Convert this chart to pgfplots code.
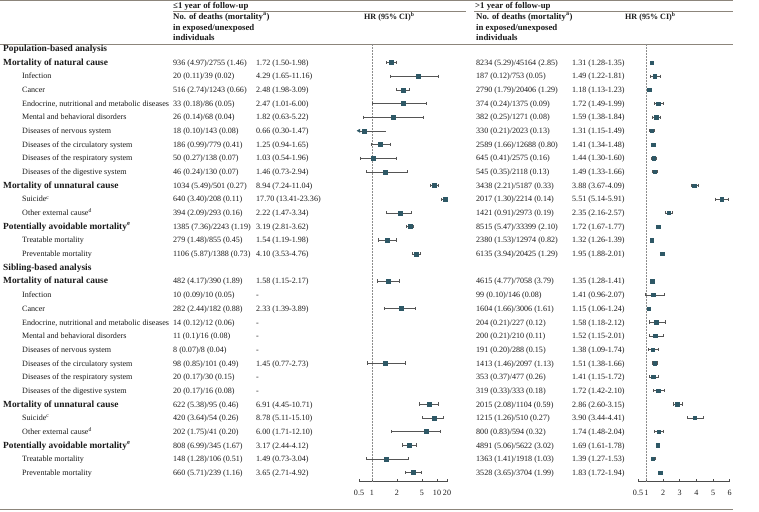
\documentclass[border=0pt]{standalone}
\usepackage{fontspec}
\setmainfont{Liberation Serif}
\usepackage{pgfplots}
\pgfplotsset{compat=1.18}
\definecolor{rulec}{HTML}{8C857B}
\definecolor{mk}{HTML}{2E5866}
\definecolor{wh}{HTML}{555555}
\definecolor{txt}{HTML}{1A1A1A}

% one table row: #1 row index, #2 label x, #3 label, #4-#7 the four cells
\newcommand\R[7]{%
  \node[tx] at (#2,{-51.4-13.68*#1}) {#3};
  \node[tx] at (173,{-51.4-13.68*#1}) {#4};
  \node[tx] at (256,{-51.4-13.68*#1}) {#5};
  \node[tx] at (476,{-51.4-13.68*#1}) {#6};
  \node[tx] at (572,{-51.4-13.68*#1}) {#7};
}
\newcommand\fs{\fontsize{8.1}{10}\selectfont}
\newcommand\rowhead[1]{{\fontsize{9.4}{11}\selectfont\bfseries #1}}
\newcommand\colhead[1]{{\fontsize{8.8}{11}\selectfont\bfseries #1}}

\begin{document}
\begin{tikzpicture}[x=1bp,y=1bp,
  tx/.style={anchor=base west, inner sep=0pt, text=txt, font=\fs}]
\useasboundingbox (0,0) rectangle (759,-512);

% rules
\draw[rulec, line width=0.8bp] (0,-0.6) -- (733,-0.6);
\draw[rulec, line width=0.6bp] (173,-11) -- (466,-11);
\draw[rulec, line width=0.6bp] (474,-11) -- (733,-11);
\draw[rulec, line width=0.6bp] (0,-44) -- (733,-44);
\draw[rulec, line width=0.8bp] (0,-509.5) -- (733,-509.5);

% headers
\node[tx] at (173,-8.6) {\colhead{≤1 year of follow-up}};
\node[tx] at (475,-8.6) {\colhead{>1 year of follow-up}};
\foreach \xx in {173,476} {
  \node[tx] at (\xx,-19.8) {\colhead{No. of deaths (mortality\textsuperscript{a})}};
  \node[tx] at (\xx,-30.8) {\colhead{in exposed/unexposed}};
  \node[tx] at (\xx,-41.0) {\colhead{individuals}};
}
\node[tx] at (364,-19.8) {\textbf{HR (95\% CI)\textsuperscript{b}}};
\node[tx] at (625,-19.8) {\textbf{HR (95\% CI)\textsuperscript{b}}};

% table body
\R{0}{3}{\rowhead{Population-based analysis}}{}{}{}{}
\R{1}{3}{\rowhead{Mortality of natural cause}}{936 (4.97)/2755 (1.46)}{1.72 (1.50-1.98)}{8234 (5.29)/45164 (2.85)}{1.31 (1.28-1.35)}
\R{2}{22}{Infection}{20 (0.11)/39 (0.02)}{4.29 (1.65-11.16)}{187 (0.12)/753 (0.05)}{1.49 (1.22-1.81)}
\R{3}{22}{Cancer}{516 (2.74)/1243 (0.66)}{2.48 (1.98-3.09)}{2790 (1.79)/20406 (1.29)}{1.18 (1.13-1.23)}
\R{4}{22}{Endocrine, nutritional and metabolic diseases}{33 (0.18)/86 (0.05)}{2.47 (1.01-6.00)}{374 (0.24)/1375 (0.09)}{1.72 (1.49-1.99)}
\R{5}{22}{Mental and behavioral disorders}{26 (0.14)/68 (0.04)}{1.82 (0.63-5.22)}{382 (0.25)/1271 (0.08)}{1.59 (1.38-1.84)}
\R{6}{22}{Diseases of nervous system}{18 (0.10)/143 (0.08)}{0.66 (0.30-1.47)}{330 (0.21)/2023 (0.13)}{1.31 (1.15-1.49)}
\R{7}{22}{Diseases of the circulatory system}{186 (0.99)/779 (0.41)}{1.25 (0.94-1.65)}{2589 (1.66)/12688 (0.80)}{1.41 (1.34-1.48)}
\R{8}{22}{Diseases of the respiratory system}{50 (0.27)/138 (0.07)}{1.03 (0.54-1.96)}{645 (0.41)/2575 (0.16)}{1.44 (1.30-1.60)}
\R{9}{22}{Diseases of the digestive system}{46 (0.24)/130 (0.07)}{1.46 (0.73-2.94)}{545 (0.35)/2118 (0.13)}{1.49 (1.33-1.66)}
\R{10}{3}{\rowhead{Mortality of unnatural cause}}{1034 (5.49)/501 (0.27)}{8.94 (7.24-11.04)}{3438 (2.21)/5187 (0.33)}{3.88 (3.67-4.09)}
\R{11}{22}{Suicide\textsuperscript{c}}{640 (3.40)/208 (0.11)}{17.70 (13.41-23.36)}{2017 (1.30)/2214 (0.14)}{5.51 (5.14-5.91)}
\R{12}{22}{Other external cause\textsuperscript{d}}{394 (2.09)/293 (0.16)}{2.22 (1.47-3.34)}{1421 (0.91)/2973 (0.19)}{2.35 (2.16-2.57)}
\R{13}{3}{\rowhead{Potentially avoidable mortality\textsuperscript{e}}}{1385 (7.36)/2243 (1.19)}{3.19 (2.81-3.62)}{8515 (5.47)/33399 (2.10)}{1.72 (1.67-1.77)}
\R{14}{22}{Treatable mortality}{279 (1.48)/855 (0.45)}{1.54 (1.19-1.98)}{2380 (1.53)/12974 (0.82)}{1.32 (1.26-1.39)}
\R{15}{22}{Preventable mortality}{1106 (5.87)/1388 (0.73)}{4.10 (3.53-4.76)}{6135 (3.94)/20425 (1.29)}{1.95 (1.88-2.01)}
\R{16}{3}{\rowhead{Sibling-based analysis}}{}{}{}{}
\R{17}{3}{\rowhead{Mortality of natural cause}}{482 (4.17)/390 (1.89)}{1.58 (1.15-2.17)}{4615 (4.77)/7058 (3.79)}{1.35 (1.28-1.41)}
\R{18}{22}{Infection}{10 (0.09)/10 (0.05)}{-}{99 (0.10)/146 (0.08)}{1.41 (0.96-2.07)}
\R{19}{22}{Cancer}{282 (2.44)/182 (0.88)}{2.33 (1.39-3.89)}{1604 (1.66)/3006 (1.61)}{1.15 (1.06-1.24)}
\R{20}{22}{Endocrine, nutritional and metabolic diseases}{14 (0.12)/12 (0.06)}{-}{204 (0.21)/227 (0.12)}{1.58 (1.18-2.12)}
\R{21}{22}{Mental and behavioral disorders}{11 (0.1)/16 (0.08)}{-}{200 (0.21)/210 (0.11)}{1.52 (1.15-2.01)}
\R{22}{22}{Diseases of nervous system}{8 (0.07)/8 (0.04)}{-}{191 (0.20)/288 (0.15)}{1.38 (1.09-1.74)}
\R{23}{22}{Diseases of the circulatory system}{98 (0.85)/101 (0.49)}{1.45 (0.77-2.73)}{1413 (1.46)/2097 (1.13)}{1.51 (1.38-1.66)}
\R{24}{22}{Diseases of the respiratory system}{20 (0.17)/30 (0.15)}{-}{353 (0.37)/477 (0.26)}{1.41 (1.15-1.72)}
\R{25}{22}{Diseases of the digestive system}{20 (0.17)/16 (0.08)}{-}{319 (0.33)/333 (0.18)}{1.72 (1.42-2.10)}
\R{26}{3}{\rowhead{Mortality of unnatural cause}}{622 (5.38)/95 (0.46)}{6.91 (4.45-10.71)}{2015 (2.08)/1104 (0.59)}{2.86 (2.60-3.15)}
\R{27}{22}{Suicide\textsuperscript{c}}{420 (3.64)/54 (0.26)}{8.78 (5.11-15.10)}{1215 (1.26)/510 (0.27)}{3.90 (3.44-4.41)}
\R{28}{22}{Other external cause\textsuperscript{d}}{202 (1.75)/41 (0.20)}{6.00 (1.71-12.10)}{800 (0.83)/594 (0.32)}{1.74 (1.48-2.04)}
\R{29}{3}{\rowhead{Potentially avoidable mortality\textsuperscript{e}}}{808 (6.99)/345 (1.67)}{3.17 (2.44-4.12)}{4891 (5.06)/5622 (3.02)}{1.69 (1.61-1.78)}
\R{30}{22}{Treatable mortality}{148 (1.28)/106 (0.51)}{1.49 (0.73-3.04)}{1363 (1.41)/1918 (1.03)}{1.39 (1.27-1.53)}
\R{31}{22}{Preventable mortality}{660 (5.71)/239 (1.16)}{3.65 (2.71-4.92)}{3528 (3.65)/3704 (1.99)}{1.83 (1.72-1.94)}

% axes: row k sits at y = -k; axis bottom at 481.7bp, top at 44bp
\pgfplotsset{
  forest/.style={
    anchor=south west, scale only axis, height=437.7bp,
    ymin=-31.68, ymax=0.35,
    axis x line*=bottom, axis y line=none,
    tick align=inside, major tick length=3bp,
    x axis line style={-, draw=black!70, line width=0.5bp},
    tick style={draw=black!70, line width=0.5bp},
    xticklabel style={font=\fs, text=txt, anchor=base, yshift=-14bp},
    clip=true,
  },
  whisk/.style={draw=wh, line width=0.5bp, mark=|, mark size=1.6bp,
    mark options={solid, draw=wh, line width=0.5bp}},
  sq/.style={only marks, mark=square*, mark size=#1, mk,
    mark options={draw=mk, fill=mk}},
  refl/.style={draw=gray!90, line width=0.7bp, dash pattern=on 0.7bp off 0.8bp},
}

% <=1 year of follow-up (scale as drawn in the source: 0.5,1,2,5,10,20)
\begin{axis}[forest,
  at={(359bp,-481.7bp)}, width=88bp,
  x coord trafo/.code={%
    \pgfmathparse{ln(#1)*1.442695}\let\L\pgfmathresult
    \pgfmathparse{13+13*min(\L,0)+25*min(max(\L,0),1)+18.912*min(max(\L-1,0),1.321928)+15*min(max(\L-2.321928,0),1)+10*max(\L-3.321928,0)}},
  xmin=0.5, xmax=20,
  xtick={0.5,1,2,5,10,20}, xticklabels={0.5,1,2,5,10,20},
]
\addplot[refl] coordinates {(1,0.35) (1,-31.68)};
\addplot[whisk] coordinates {(1.50,-1) (1.98,-1)};
\addplot[whisk] coordinates {(1.65,-2) (11.16,-2)};
\addplot[whisk] coordinates {(1.98,-3) (3.09,-3)};
\addplot[whisk] coordinates {(1.01,-4) (6.00,-4)};
\addplot[whisk] coordinates {(0.63,-5) (5.22,-5)};
\addplot[whisk, mark indices={2}] coordinates {(0.30,-6) (1.47,-6)};
\addplot[whisk] coordinates {(0.94,-7) (1.65,-7)};
\addplot[whisk] coordinates {(0.54,-8) (1.96,-8)};
\addplot[whisk] coordinates {(0.73,-9) (2.94,-9)};
\addplot[whisk] coordinates {(7.24,-10) (11.04,-10)};
\addplot[whisk, mark indices={1}] coordinates {(13.41,-11) (23.36,-11)};
\addplot[whisk] coordinates {(1.47,-12) (3.34,-12)};
\addplot[whisk] coordinates {(2.81,-13) (3.62,-13)};
\addplot[whisk] coordinates {(1.19,-14) (1.98,-14)};
\addplot[whisk] coordinates {(3.53,-15) (4.76,-15)};
\addplot[whisk] coordinates {(1.15,-17) (2.17,-17)};
\addplot[whisk] coordinates {(1.39,-19) (3.89,-19)};
\addplot[whisk] coordinates {(0.77,-23) (2.73,-23)};
\addplot[whisk] coordinates {(4.45,-26) (10.71,-26)};
\addplot[whisk] coordinates {(5.11,-27) (15.10,-27)};
\addplot[whisk] coordinates {(1.71,-28) (12.10,-28)};
\addplot[whisk] coordinates {(2.44,-29) (4.12,-29)};
\addplot[whisk] coordinates {(0.73,-30) (3.04,-30)};
\addplot[whisk] coordinates {(2.71,-31) (4.92,-31)};
% CI running past the left end of the scale
\addplot[only marks, mark=triangle*, mark size=1.9bp,
  mark options={rotate=90, draw=mk, fill=mk}] coordinates {(0.5,-6)};
\addplot[sq=2bp] coordinates {
  (1.72,-1) (4.29,-2) (2.48,-3) (2.47,-4) (1.82,-5) (0.66,-6) (1.25,-7)
  (1.03,-8) (1.46,-9) (8.94,-10) (17.70,-11) (2.22,-12) (3.19,-13)
  (1.54,-14) (4.10,-15) (1.58,-17) (2.33,-19) (1.45,-23) (6.91,-26)
  (8.78,-27) (6.00,-28) (3.17,-29) (1.49,-30) (3.65,-31)};
\end{axis}

% >1 year of follow-up
\begin{axis}[forest,
  at={(638bp,-481.7bp)}, width=91.7bp,
  xmin=0.5, xmax=6,
  xtick={0.5,1,2,3,4,5,6}, xticklabels={0.5,1,2,3,4,5,6},
]
\addplot[refl] coordinates {(1,0.35) (1,-31.68)};
\addplot[whisk] coordinates {(1.28,-1) (1.35,-1)};
\addplot[whisk] coordinates {(1.22,-2) (1.81,-2)};
\addplot[whisk] coordinates {(1.13,-3) (1.23,-3)};
\addplot[whisk] coordinates {(1.49,-4) (1.99,-4)};
\addplot[whisk] coordinates {(1.38,-5) (1.84,-5)};
\addplot[whisk] coordinates {(1.15,-6) (1.49,-6)};
\addplot[whisk] coordinates {(1.34,-7) (1.48,-7)};
\addplot[whisk] coordinates {(1.30,-8) (1.60,-8)};
\addplot[whisk] coordinates {(1.33,-9) (1.66,-9)};
\addplot[whisk] coordinates {(3.67,-10) (4.09,-10)};
\addplot[whisk] coordinates {(5.14,-11) (5.91,-11)};
\addplot[whisk] coordinates {(2.16,-12) (2.57,-12)};
\addplot[whisk] coordinates {(1.67,-13) (1.77,-13)};
\addplot[whisk] coordinates {(1.26,-14) (1.39,-14)};
\addplot[whisk] coordinates {(1.88,-15) (2.01,-15)};
\addplot[whisk] coordinates {(1.28,-17) (1.41,-17)};
\addplot[whisk] coordinates {(0.96,-18) (2.07,-18)};
\addplot[whisk] coordinates {(1.06,-19) (1.24,-19)};
\addplot[whisk] coordinates {(1.18,-20) (2.12,-20)};
\addplot[whisk] coordinates {(1.15,-21) (2.01,-21)};
\addplot[whisk] coordinates {(1.09,-22) (1.74,-22)};
\addplot[whisk] coordinates {(1.38,-23) (1.66,-23)};
\addplot[whisk] coordinates {(1.15,-24) (1.72,-24)};
\addplot[whisk] coordinates {(1.42,-25) (2.10,-25)};
\addplot[whisk] coordinates {(2.60,-26) (3.15,-26)};
\addplot[whisk] coordinates {(3.44,-27) (4.41,-27)};
\addplot[whisk] coordinates {(1.48,-28) (2.04,-28)};
\addplot[whisk] coordinates {(1.61,-29) (1.78,-29)};
\addplot[whisk] coordinates {(1.27,-30) (1.53,-30)};
\addplot[whisk] coordinates {(1.72,-31) (1.94,-31)};
\addplot[sq=1.7bp] coordinates {
  (1.31,-1) (1.49,-2) (1.18,-3) (1.72,-4) (1.59,-5) (1.31,-6) (1.41,-7)
  (1.44,-8) (1.49,-9) (3.88,-10) (5.51,-11) (2.35,-12) (1.72,-13)
  (1.32,-14) (1.95,-15) (1.35,-17) (1.41,-18) (1.15,-19) (1.58,-20)
  (1.52,-21) (1.38,-22) (1.51,-23) (1.41,-24) (1.72,-25) (2.86,-26)
  (3.90,-27) (1.74,-28) (1.69,-29) (1.39,-30) (1.83,-31)};
\end{axis}
\end{tikzpicture}
\end{document}
